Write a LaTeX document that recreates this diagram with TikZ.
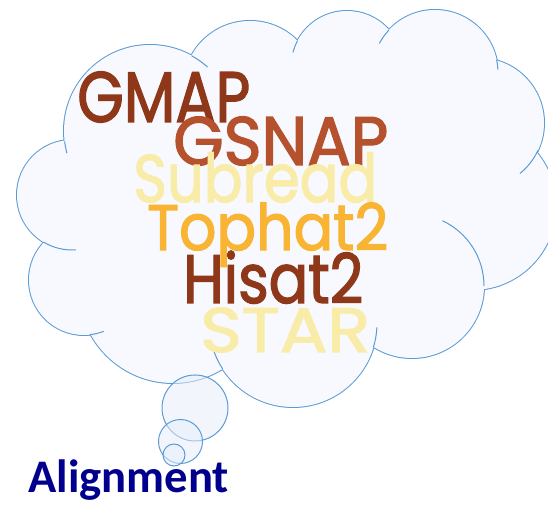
\documentclass[tikz,border=0pt]{standalone}
\usepackage{fontspec}
\newfontfamily\wordfont[FakeBold=2]{Poppins}
\newfontfamily\labelfont{Carlito}
\usepackage{tikz}
\usetikzlibrary{positioning}

\definecolor{cloudline}{HTML}{5B9BD5}
\definecolor{cloudfill}{HTML}{F7F9FE}
\definecolor{bubblefill}{HTML}{E6EEFA}
\definecolor{rust}{HTML}{8F3719}
\definecolor{sienna}{HTML}{B5522D}
\definecolor{butter}{HTML}{F8ECA8}
\definecolor{amber}{HTML}{F8B432}
\definecolor{navy}{HTML}{00008C}

\newlength{\pxu}\setlength{\pxu}{0.75pt}
\newcommand{\wordsize}[1]{\fontsize{#1}{#1}\selectfont}

\tikzset{
  outline/.style={draw=cloudline, line width=0.75pt},
  word/.style={anchor=base west, inner sep=0pt, font=\wordfont},
}

\begin{document}
\begin{tikzpicture}[x=0.75pt, y=0.75pt]
  \useasboundingbox (0,0) rectangle (548,505);
  \clip (0,0) rectangle (548,505);
  % cloud: puffs stroked twice as wide, then filled over the inner half
  \foreach \cx/\cy/\r in {72/310/55, 150/374/86, 250/417/67, 347/438/56, 435/432/63, 479/382/65,
                           472/299/84, 412/219/72, 293/182/84, 173/216/94, 84/225/55}
    \draw[outline, line width=1.5pt] (\cx,\cy) circle[radius=\r];
  \fill[cloudfill] (72,310) -- (150,374) -- (250,417) -- (347,438) -- (435,432) -- (479,382)
    -- (472,299) -- (412,219) -- (293,182) -- (173,216) -- (84,225) -- cycle;
  \foreach \cx/\cy/\r in {72/310/55, 150/374/86, 250/417/67, 347/438/56, 435/432/63, 479/382/65,
                           472/299/84, 412/219/72, 293/182/84, 173/216/94, 84/225/55}
    \fill[cloudfill] (\cx,\cy) circle[radius=\r];
  % inner arcs where the puffs meet
  \foreach \cx/\cy/\r/\a/\b in {150/374/86/187/195, 150/374/86/48/61, 347/438/56/152/165,
                                 435/432/63/137/152, 435/432/63/3/12, 479/382/65/-51/-25,
                                 412/219/72/0/65, 293/182/84/-17/-3, 293/182/84/200/213,
                                 84/225/55/-84/-69, 72/310/55/-121/-86}
    \draw[outline] ([shift={(\a:\r)}]\cx,\cy) arc[start angle=\a, end angle=\b, radius=\r];

  % thought bubbles
  \coordinate (bigbub) at (195,97);
  \coordinate (midbub) at (180.5,63.5);
  \coordinate (smallbub) at (174,50);
  \draw[outline, fill=bubblefill, fill opacity=0.5] (bigbub) circle[radius=33];
  \draw[outline, fill=bubblefill, fill opacity=0.5] (midbub) circle[radius=22];
  \draw[outline, fill=bubblefill, fill opacity=0.5] (smallbub) circle[radius=11];

  % tool names
  \node[word, text=rust] (gmap) at (77,383) {\wordsize{53.6pt}\resizebox{173\pxu}{\height}{GMAP}};
  \node[word, text=sienna] (gsnap) at (173,340) {\wordsize{51.4pt}\resizebox{215\pxu}{\height}{GSNAP}};
  \node[word, text=butter] (subread) at (133,303) {\wordsize{50.4pt}\resizebox{244\pxu}{\height}{Subread}};
  \node[word, text=amber] (tophat) at (147,255) {\wordsize{48.2pt}\resizebox{241\pxu}{\height}{Tophat2}};
  \node[word, text=rust] (hisat) at (183,202) {\wordsize{51.4pt}\resizebox{180\pxu}{\height}{Hisat2}};
  \node[word, text=butter] (star) at (200,153) {\wordsize{47.1pt}\resizebox{170\pxu}{\height}{STAR}};

  \node[anchor=base west, inner sep=0pt, text=navy,
        font=\labelfont\bfseries\fontsize{35pt}{35pt}\selectfont] (title) at (28,12) {Alignment};
\end{tikzpicture}
\end{document}
